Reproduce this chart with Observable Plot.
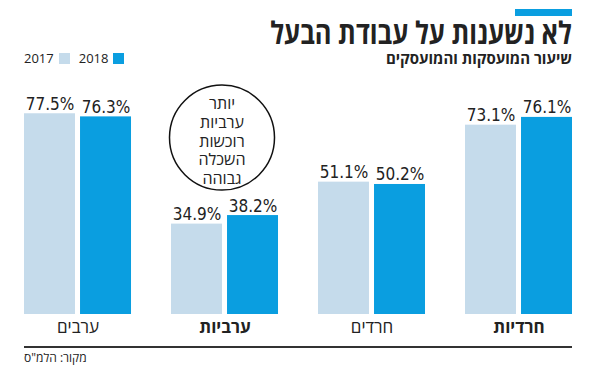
<!DOCTYPE html>
<html>
<head>
<meta charset="utf-8">
<script src="https://cdn.jsdelivr.net/npm/d3@7"></script>
<script src="https://cdn.jsdelivr.net/npm/@observablehq/plot@0.6"></script>
<style>
  html, body { margin: 0; padding: 0; background: #fff; }
  #wrap { position: relative; width: 590px; height: 369px; overflow: hidden; font-family: "Open Sans", "DejaVu Sans", sans-serif; color: #222; }
  #accent { position: absolute; left: 515px; top: 9px; width: 57px; height: 7px; background: #0a9ee0; }
  #title { position: absolute; right: 18px; top: 17px; font-size: 31px; font-weight: 700; direction: rtl; white-space: nowrap; line-height: 31px; height: 31px; transform: scaleX(0.82); transform-origin: right center; }
  #subtitle { position: absolute; right: 18px; top: 50px; font-size: 15px; font-weight: 700; direction: rtl; white-space: nowrap; line-height: 16px; }
  #legend { position: absolute; left: 24px; top: 49px; font-size: 13px; display: flex; align-items: center; white-space: nowrap; }
  #legend .sw { display: inline-block; width: 11px; height: 11px; margin: 0 9px 0 5px; }
  #chart { position: absolute; left: 0; top: 75px; }
  #baseline { position: absolute; left: 24px; top: 346px; width: 548px; height: 2px; background: #333; }
  #source { position: absolute; left: 24px; top: 349px; font-size: 12px; direction: rtl; white-space: nowrap; }
</style>
</head>
<body>
<div id="wrap">
  <div id="accent"></div>
  <div id="title"></div>
  <div id="subtitle"></div>
  <div id="legend"></div>
  <div id="chart"></div>
  <div id="baseline"></div>
  <div id="source"></div>
</div>
<script>
const title = "לא נשענות על עבודת הבעל";
const subtitle = "שיעור המועסקות והמועסקים";
const source = "מקור: הלמ\"ס";
const categories = ["ערבים", "ערביות", "חרדים", "חרדיות"];
const boldCategories = ["ערביות", "חרדיות"];
const years = ["2017", "2018"];
const values2017 = [77.5, 34.9, 51.1, 73.1];
const values2018 = [76.3, 38.2, 50.2, 76.1];
const colors = ["#c5dbeb", "#0a9ee0"];
const noteCategory = "ערביות";
const noteLines = ["יותר", "ערביות", "רוכשות", "השכלה", "גבוהה"];
const noteY = 68.3;

document.getElementById("title").textContent = title;
document.getElementById("subtitle").textContent = subtitle;
document.getElementById("source").textContent = source;
const legend = document.getElementById("legend");
years.forEach((y, i) => {
  const t = document.createElement("span"); t.textContent = y; legend.appendChild(t);
  const s = document.createElement("span"); s.className = "sw"; s.style.background = colors[i]; legend.appendChild(s);
});

const data = [];
categories.forEach((c, i) => {
  data.push({category: c, year: years[0], value: values2017[i]});
  data.push({category: c, year: years[1], value: values2018[i]});
});
const fmt = v => v.toFixed(1) + "%";
const labelFont = "'Liberation Sans Narrow', 'DejaVu Sans Condensed', sans-serif";

const chart = Plot.plot({
  width: 590,
  height: 294,
  marginLeft: 24,
  marginRight: 18,
  marginTop: 31.8,
  marginBottom: 55,
  style: {fontFamily: "'Open Sans', sans-serif", color: "#222", background: "transparent"},
  fx: {domain: categories, paddingInner: 0.272, paddingOuter: 0, round: false, axis: null, label: null},
  x: {domain: years, paddingInner: 0.09, paddingOuter: 0, round: false, axis: null},
  y: {domain: [0, 80], axis: null},
  color: {domain: years, range: colors},
  marks: [
    Plot.barY(data, {fx: "category", x: "year", y: "value", fill: "year"}),
    Plot.text(data, {fx: "category", x: "year", y: "value", text: d => fmt(d.value), lineAnchor: "bottom", dy: -4, fontSize: 17, fontFamily: labelFont, fill: "#222"}),
    Plot.text(categories.filter(c => !boldCategories.includes(c)), {fx: d => d, text: d => d, frameAnchor: "bottom", dy: 18, fontSize: 17, fill: "#222"}),
    Plot.text(boldCategories, {fx: d => d, text: d => d, frameAnchor: "bottom", dy: 18, fontSize: 17, fontWeight: "bold", fill: "#222"}),
    Plot.dot([noteCategory], {fx: d => d, y: () => noteY, r: 52.5, stroke: "#111", strokeWidth: 1.5, fill: "white", dx: -3}),
    Plot.text([noteCategory], {fx: d => d, y: () => noteY, text: () => noteLines.join("\n"), lineHeight: 1.17, fontSize: 16, fill: "#222", dx: -3, dy: 3})
  ]
});
document.getElementById("chart").appendChild(chart);
</script>
</body>
</html>
